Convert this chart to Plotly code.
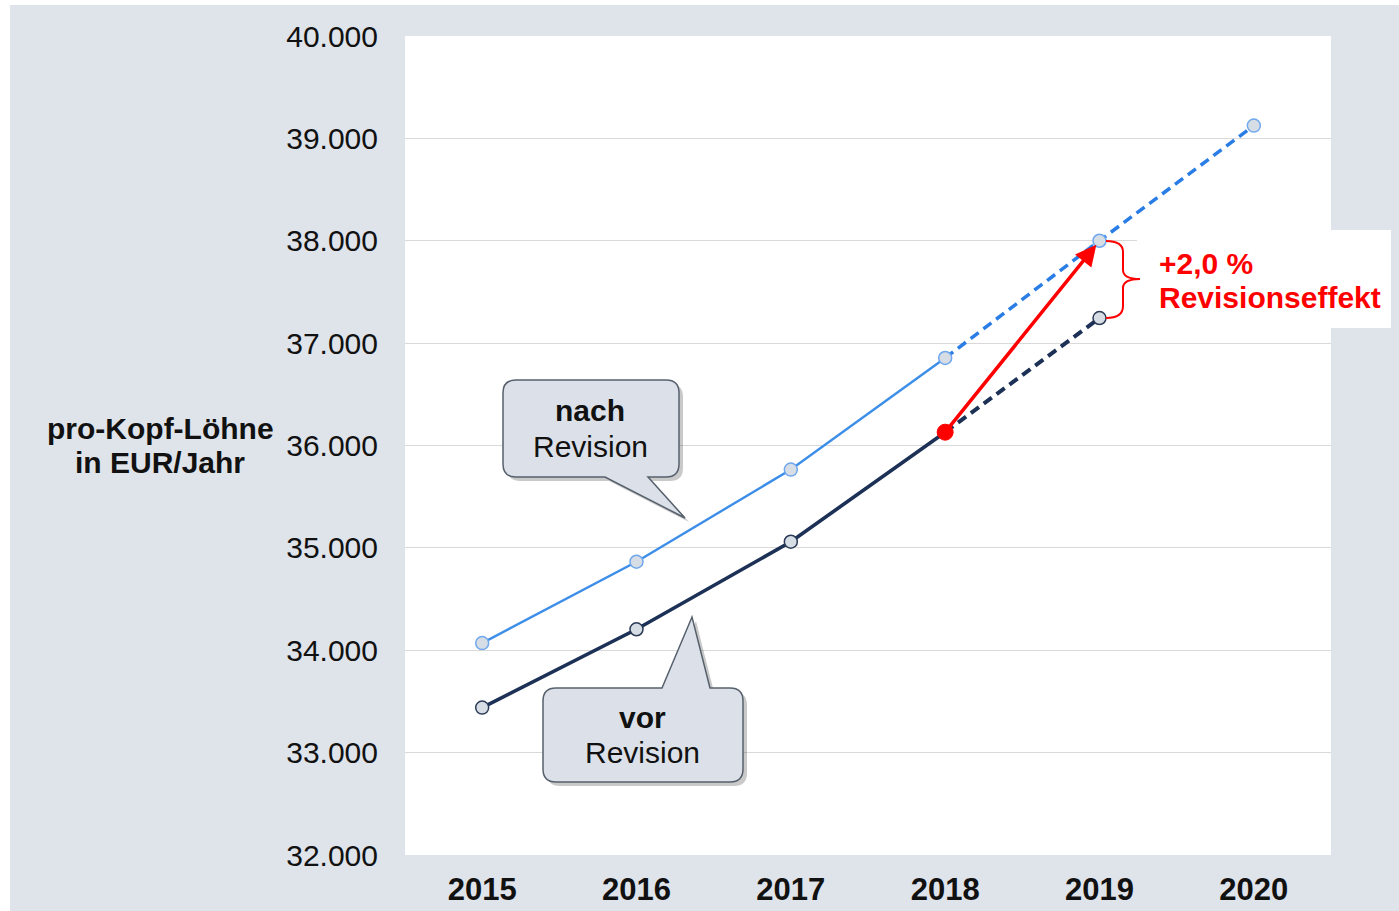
import plotly.graph_objects as go

# ---------------- data ----------------
years = [2015, 2016, 2017, 2018, 2019, 2020]
nach_revision = [34070, 34865, 35765, 36855, 38000, 39125]   # nach Revision
vor_revision = [33440, 34205, 35060, 36130, 37245]            # vor Revision
y_ticks = [32000, 33000, 34000, 35000, 36000, 37000, 38000, 39000, 40000]
last_actual = 3  # index of 2018 (solid up to here, dashed afterwards)

# ---------------- style ----------------
W, H = 1399, 911
ML, MR, MT, MB = 405, 68, 36, 56
PW, PH = W - ML - MR, H - MT - MB
FONT = "Liberation Sans, Arial, sans-serif"
BG = "#DFE3EA"
LIGHT = "#3D8EE8"
LIGHT_D = "#2B7DE6"
NAVY = "#1C3155"
MFILL = "#D7DDE5"
RED = "#FF0000"


def px(x):
    return (x - ML) / PW


def py(y):
    return (H - MB - y) / PH


def path_from(points_cmds):
    out = []
    for cmd, pts in points_cmds:
        coords = " ".join(f"{px(a):.5f},{py(b):.5f}" for a, b in pts)
        out.append(f"{cmd} {coords}" if coords else cmd)
    return " ".join(out)


def callout(x0, y0, x1, y1, r, side, b1, b2, tip, dx=0, dy=0):
    x0 += dx; x1 += dx; y0 += dy; y1 += dy; b1 += dx; b2 += dx
    tip = (tip[0] + dx, tip[1] + dy)
    c = [("M", [(x0 + r, y0)])]
    if side == "top":
        c += [("L", [(b1, y0)]), ("L", [tip]), ("L", [(b2, y0)])]
    c += [("L", [(x1 - r, y0)]), ("Q", [(x1, y0), (x1, y0 + r)]),
          ("L", [(x1, y1 - r)]), ("Q", [(x1, y1), (x1 - r, y1)])]
    if side == "bottom":
        c += [("L", [(b2, y1)]), ("L", [tip]), ("L", [(b1, y1)])]
    c += [("L", [(x0 + r, y1)]), ("Q", [(x0, y1), (x0, y1 - r)]),
          ("L", [(x0, y0 + r)]), ("Q", [(x0, y0), (x0 + r, y0)]), ("Z", [])]
    return path_from(c)


fig = go.Figure()

# nach Revision
fig.add_trace(go.Scatter(x=years[:last_actual + 1], y=nach_revision[:last_actual + 1],
                         mode="lines", line=dict(color=LIGHT, width=2.4),
                         hoverinfo="skip", showlegend=False))
fig.add_trace(go.Scatter(x=years[last_actual:], y=nach_revision[last_actual:],
                         mode="lines", line=dict(color=LIGHT_D, width=3.5, dash="10px,6px"),
                         hoverinfo="skip", showlegend=False))
# vor Revision
fig.add_trace(go.Scatter(x=years[:last_actual + 1], y=vor_revision[:last_actual + 1],
                         mode="lines", line=dict(color=NAVY, width=3.6),
                         hoverinfo="skip", showlegend=False))
fig.add_trace(go.Scatter(x=years[last_actual:len(vor_revision)], y=vor_revision[last_actual:],
                         mode="lines", line=dict(color=NAVY, width=4, dash="10px,6px"),
                         hoverinfo="skip", showlegend=False))
# markers
fig.add_trace(go.Scatter(x=years, y=nach_revision, mode="markers",
                         marker=dict(size=13, color=MFILL, line=dict(color="#6FA8EE", width=1.5)),
                         hoverinfo="skip", showlegend=False))
vor_idx = [i for i in range(len(vor_revision)) if i != last_actual]
fig.add_trace(go.Scatter(x=[years[i] for i in vor_idx], y=[vor_revision[i] for i in vor_idx],
                         mode="markers",
                         marker=dict(size=13, color=MFILL, line=dict(color="#2A3A55", width=1.5)),
                         hoverinfo="skip", showlegend=False))
fig.add_trace(go.Scatter(x=[years[last_actual]], y=[vor_revision[last_actual]], mode="markers",
                         marker=dict(size=16, color=RED, line=dict(color=RED, width=1)),
                         hoverinfo="skip", showlegend=False))

shapes = []
# white strips at top/left edge
shapes.append(dict(type="rect", xref="paper", yref="paper", x0=px(0), x1=px(10), y0=py(H), y1=py(0),
                   fillcolor="white", line=dict(width=0), layer="below"))
shapes.append(dict(type="rect", xref="paper", yref="paper", x0=px(0), x1=px(W), y0=py(5), y1=py(0),
                   fillcolor="white", line=dict(width=0), layer="below"))

# callouts
for (x0, y0, x1, y1, side, b1, b2, tip) in [
    (503, 380, 679, 477, "bottom", 605, 648, (685, 518)),
    (543, 688, 743, 782, "top", 662, 710, (692, 617)),
]:
    shapes.append(dict(type="path", xref="paper", yref="paper",
                       path=callout(x0, y0, x1, y1, 13, side, b1, b2, tip, dx=4, dy=4),
                       fillcolor="rgba(60,60,60,0.28)", line=dict(width=0), layer="above"))
    shapes.append(dict(type="path", xref="paper", yref="paper",
                       path=callout(x0, y0, x1, y1, 13, side, b1, b2, tip),
                       fillcolor="#DCE1E9", line=dict(color="#56606C", width=1.5), layer="above"))

# white box behind red text
shapes.append(dict(type="rect", xref="paper", yref="paper", x0=px(1137), x1=px(1391),
                   y0=py(328), y1=py(230), fillcolor="white", line=dict(width=0), layer="above"))
# brace
brace = path_from([("M", [(1106, 241)]), ("Q", [(1123, 241), (1123, 252)]),
                   ("L", [(1123, 270)]), ("Q", [(1123, 279), (1140, 279)]),
                   ("Q", [(1123, 279), (1123, 288)]), ("L", [(1123, 306)]),
                   ("Q", [(1123, 318), (1106, 318)])])
shapes.append(dict(type="path", xref="paper", yref="paper", path=brace,
                   line=dict(color=RED, width=2), layer="above"))

annotations = []
# arrow
annotations.append(dict(x=years[4], y=nach_revision[4], xref="x", yref="y",
                        ax=years[last_actual], ay=vor_revision[last_actual], axref="x", ayref="y",
                        text="", showarrow=True, arrowhead=2, arrowsize=1.2, arrowwidth=3.5,
                        arrowcolor=RED, standoff=5))


def txt(x, y, s, size=30, bold=False, color="#111111", anchor="center"):
    annotations.append(dict(x=px(x), y=py(y), xref="paper", yref="paper",
                            text=f"<b>{s}</b>" if bold else s, showarrow=False,
                            xanchor=anchor, yanchor="middle",
                            font=dict(family=FONT, size=size, color=color)))


txt(160, 429, "pro-Kopf-Löhne", bold=True)
txt(160, 463, "in EUR/Jahr", bold=True)
txt(590, 410, "nach", bold=True)
txt(590, 446, "Revision")
txt(642, 717, "vor", bold=True)
txt(642, 752, "Revision")
txt(1157, 263, "+2,0 %", bold=True, color=RED, anchor="left")
txt(1157, 297, "Revisionseffekt", bold=True, color=RED, anchor="left")

fig.update_layout(
    width=W, height=H, autosize=False,
    margin=dict(l=ML, r=MR, t=MT, b=MB, pad=0, autoexpand=False),
    paper_bgcolor=BG, plot_bgcolor="white",
    separators=",.",
    shapes=shapes, annotations=annotations,
    showlegend=False,
    font=dict(family=FONT, color="#111111"),
)
fig.update_xaxes(range=[2014.5, 2020.5], tickvals=years, tickformat="d", automargin=False,
                 showgrid=False, zeroline=False, showline=False, ticks="",
                 ticklabelstandoff=13,
                 tickfont=dict(family=FONT, size=31, color="#111111", weight="bold"))
fig.update_yaxes(range=[y_ticks[0], y_ticks[-1]], tickvals=y_ticks, tickformat=",.0f",
                 automargin=False,
                 showgrid=True, gridcolor="#D9D9D9", gridwidth=1, zeroline=False,
                 showline=False, ticks="", ticklabelstandoff=26,
                 tickfont=dict(family=FONT, size=30, color="#111111"))

js = ("document.documentElement.style.cssText='margin:0;padding:0;overflow:hidden;';"
      "document.body.style.cssText='margin:0;padding:0;overflow:hidden;';")
fig.write_html("out.html", config={"displayModeBar": False, "responsive": False}, post_script=js)
